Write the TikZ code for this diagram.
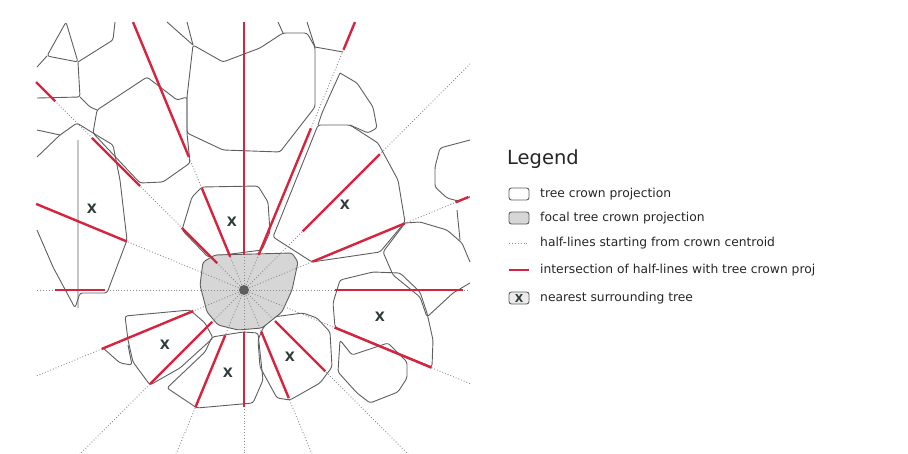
\documentclass[tikz,border=0pt]{standalone}
\usepackage{fontspec}
\setmainfont{DejaVu Sans}
\usetikzlibrary{calc}
\definecolor{crownc}{HTML}{5E5E5E}
\definecolor{redc}{HTML}{D8233E}
\definecolor{focalfill}{HTML}{D6D6D6}
\definecolor{halfc}{HTML}{8C8C8C}
\definecolor{markc}{HTML}{2F3B3B}
\tikzset{
  crown/.style={draw=crownc, line width=0.9pt, line join=round, rounded corners=2.5pt},
  half/.style={draw=halfc, line width=0.9pt, dotted},
  redseg/.style={draw=redc, line width=2.4pt},
  treex/.style={text=markc, font=\bfseries\fontsize{13}{13}\selectfont, inner sep=0pt},
  legtext/.style={anchor=west, font=\fontsize{12.3}{13}\selectfont, text=black!85, inner sep=0pt},
}
\begin{document}
\begin{tikzpicture}[x=1pt,y=-1pt]
\useasboundingbox (0,0) rectangle (908,453);
\coordinate (c) at (244,290);

% ---- surrounding crowns ----
\draw[crown] (66,22) -- (47,56) -- (78,62) -- cycle;
\draw[crown] (37,67) -- (47,56) (78,62) -- (80,97) -- (37,98);
\draw[crown] (78,62) -- (113,40) -- (115,22);
\draw[crown] (80,97) -- (90,107) -- (97,110);
\draw[crown] (97,110) -- (147,77) -- (177,100) -- (187,97) -- (187,133) -- (190,163) -- (163,182) -- (140,183) -- (93,133) -- cycle;
% top centre crown
\draw[crown] (193,45) -- (223,62) -- (260,48) -- (283,33) -- (307,33) -- (315,47) -- (315,107) -- (280,152) -- (223,150) -- (187,133) -- (187,97) -- cycle;
\draw[crown] (167,22) -- (193,45) (187,22) -- (193,45) (283,33) -- (278,22) (315,47) -- (307,22) (315,47) -- (343,52);
% left X crown
\draw[crown] (37,157) -- (60,135) -- (77,123) -- (93,133) -- (113,145) -- (120,180) -- (127,240) -- (107,293) -- (80,293) -- (75,308) -- (53,267) -- (37,230);
\draw[crown] (78,140) -- (78,308) (37,130) -- (60,135);
% crown above focal
\draw[crown] (192,197) -- (202,187) -- (258,186) -- (268,202) -- (270,232) -- (262,250) -- (208,257) -- (182,230) -- cycle;
% upper right crowns
\draw[crown] (318,125) -- (350,125) -- (378,143) -- (398,180) -- (405,222) -- (380,252) -- (312,262) -- (273,237) -- cycle;
\draw[crown] (340,73) -- (357,83) -- (373,107) -- (377,128) -- (368,133) -- (350,125) (318,125) -- (322,113) -- (330,95) -- (340,73);
\draw[crown] (470,140) -- (440,148) -- (435,167) -- (435,187) -- (447,198) -- (458,201) -- (470,197);
\draw[crown] (405,223) -- (420,222) -- (447,230) -- (462,243) -- (470,262);
\draw[crown] (457,210) -- (460,240);
\draw[crown] (405,223) -- (383,252) -- (393,275) -- (420,297) -- (427,317) -- (453,293) -- (470,283);
% right X crown
\draw[crown] (340,280) -- (373,272) -- (400,273) -- (420,292) -- (427,313) -- (433,340) -- (432,367) -- (335,327) -- (333,303) -- cycle;
\draw[crown] (340,340) -- (352,355) -- (388,343) -- (407,362) -- (407,378) -- (398,392) -- (370,403) -- (357,393) -- (338,372) -- cycle;
% bottom crowns
\draw[crown] (263,328) -- (273,317) -- (303,313) -- (317,318) -- (330,332) -- (332,367) -- (320,383) -- (290,400) -- (277,398) -- (260,367) -- (258,340) -- cycle;
\draw[crown] (212,337) -- (243,332) -- (258,333) -- (263,380) -- (253,403) -- (197,408) -- (167,388) -- (205,352) -- cycle;
\draw[crown] (125,316) -- (190,310) -- (205,323) -- (213,338) -- (180,368) -- (150,385) -- (133,362) -- (128,340) -- cycle;
\draw[crown] (103,348) -- (120,363) -- (132,365) -- (128,345);

% ---- focal crown ----
\draw[crown, fill=focalfill] (203,262) -- (215,255) -- (292,253) -- (298,262) -- (292,290) -- (282,312) -- (262,328) -- (238,330) -- (218,325) -- (207,312) -- (200,285) -- cycle;

% ---- half-lines ----
\begin{scope}
\clip (36,22) rectangle (470,453);
\foreach \a in {0,22.5,...,337.5} \draw[half] (c) -- ++(-\a:420);
\end{scope}

% ---- intersections ----
\foreach \a/\ra/\rb in {0/91/219, 22.5/74/174, 22.5/229/243, 45/83/192, 67.5/38/175, 67.5/260/290,
  90/35/268, 112.5/36/110, 112.5/144/290, 135/38/88, 135/147/215, 135/267/294, 157.5/127/225,
  180/139/189, 202.5/55/154, 225/45/133, 247.5/49/127, 270/42/117, 292.5/45/117, 315/44/115, 337.5/98/203}
  \draw[redseg] ($(c)+(-\a:\ra)$) -- ($(c)+(-\a:\rb)$);

\fill[crownc] (c) circle (5);

% ---- nearest trees ----
\foreach \p/\q [count=\i] in {92/209, 232/222, 345/205, 380/317, 165/345, 228/373, 290/357}
  \node[treex] (x\i) at (\p,\q) {X};

% ---- legend ----
\node[anchor=west, inner sep=0pt, font=\fontsize{19.5}{21}\selectfont, text=black!85] (leg) at (507,159) {Legend};
\draw[crown] (509,188) rectangle (529,200);
\node[legtext] (l1) at (540,194) {tree crown projection};
\draw[crown, fill=focalfill] (509,212) rectangle (529,224);
\node[legtext] (l2) at (540,218) {focal tree crown projection};
\draw[half] (509,243) -- (529,243);
\node[legtext] (l3) at (540,243) {half-lines starting from crown centroid};
\draw[redseg] (509,270) -- (529,270);
\node[legtext] (l4) at (540,270) {intersection of half-lines with tree crown proj};
\draw[crown, fill=black!8] (509,292) rectangle (529,304);
\node[treex, font=\bfseries\fontsize{11}{11}\selectfont] (lx) at (519,298) {X};
\node[legtext] (l5) at (540,298) {nearest surrounding tree};
\end{tikzpicture}
\end{document}
